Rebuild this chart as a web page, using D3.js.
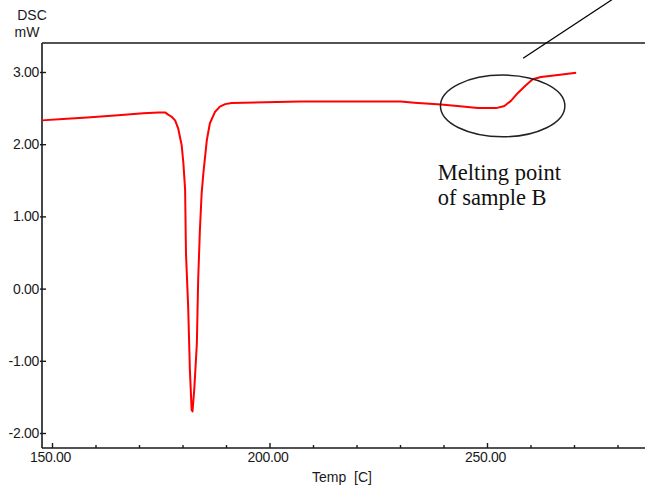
<!DOCTYPE html>
<html>
<head>
<meta charset="utf-8">
<script src="https://cdn.jsdelivr.net/npm/d3@7"></script>
<style>
  html, body { margin: 0; padding: 0; background: #fff; }
  svg { display: block; }
</style>
</head>
<body>
<svg id="chart" width="645" height="486"></svg>
<script>
// ---- data ----
const temps = [147.7, 152.5, 158.1, 165.2, 171.0, 174.5, 176.0, 176.7, 177.5, 178.3, 179.0, 179.8, 180.2, 180.6, 180.8, 181.3, 181.7, 182.1, 182.3, 182.7, 183.3, 183.6, 184.0, 184.4, 184.8, 185.6, 186.3, 187.5, 188.6, 189.8, 191.3, 207.0, 230.2, 233.3, 239.4, 243.2, 247.9, 252.1, 254.0, 255.5, 257.1, 259.0, 260.5, 262.4, 266.3, 270.5];
const dsc   = [2.33, 2.35, 2.37, 2.40, 2.43, 2.44, 2.44, 2.41, 2.38, 2.33, 2.22, 1.99, 1.74, 1.37, 0.49, -0.25, -1.13, -1.68, -1.70, -1.40, -0.76, 0.12, 0.81, 1.32, 1.60, 2.06, 2.29, 2.45, 2.52, 2.555, 2.57, 2.59, 2.59, 2.575, 2.55, 2.53, 2.50, 2.50, 2.53, 2.60, 2.71, 2.82, 2.90, 2.93, 2.96, 2.99];
const xMajorTicks = [150, 200, 250];
const xMinorTicks = [160, 170, 180, 190, 210, 220, 230, 240, 260, 270, 280];
const yTicks = [3, 2, 1, 0, -1, -2];
const yTitle = ["DSC", "mW"];
const xTitle = "Temp  [C]";
const noteLines = ["Melting point", "of sample B"];
const noteEllipse = { t: 253.6, v: 2.53, rt: 14.3, rv: 0.427 };
const notePointer = [[258.3, 3.19], [278.7, 4.0]];

// ---- scales ----
const x = d3.scaleLinear().domain([150, 250]).range([52, 487]);
const y = d3.scaleLinear().domain([-2, 3]).range([433, 72]);

const svg = d3.select("#chart");
const axisFont = "'Liberation Sans', Arial, sans-serif";
const ink = "#1a1a1a";
const fmt = d => d3.format(".2f")(d).replace("\u2212", "-");

const xLeft = 42, xRight = 645, yTop = 43, yBottom = 448;

// frame lines
svg.append("line").attr("x1", xLeft).attr("x2", xRight).attr("y1", yTop).attr("y2", yTop)
  .attr("stroke", ink).attr("stroke-width", 1.6);
svg.append("line").attr("x1", xLeft).attr("x2", xRight).attr("y1", yBottom).attr("y2", yBottom)
  .attr("stroke", ink).attr("stroke-width", 1.6);
svg.append("line").attr("x1", xLeft).attr("x2", xLeft).attr("y1", yTop).attr("y2", yBottom)
  .attr("stroke", ink).attr("stroke-width", 1.6);

// x axis (major with labels)
const gxMaj = svg.append("g").attr("transform", `translate(0,${yBottom})`)
  .call(d3.axisBottom(x).tickValues(xMajorTicks).tickSize(-5).tickPadding(8).tickFormat(fmt));
gxMaj.select(".domain").remove();
gxMaj.selectAll(".tick line").attr("stroke", ink).attr("stroke-width", 1.4);
gxMaj.selectAll(".tick text").attr("font-family", axisFont).attr("font-size", 14)
  .attr("fill", ink).attr("dy", "0.71em").attr("y", 4).attr("dx", -2).attr("letter-spacing", -0.3);

// x axis minor
const gxMin = svg.append("g").attr("transform", `translate(0,${yBottom})`)
  .call(d3.axisBottom(x).tickValues(xMinorTicks).tickSize(-3).tickFormat(""));
gxMin.select(".domain").remove();
gxMin.selectAll(".tick line").attr("stroke", ink).attr("stroke-width", 1.4);

// y axis
const gy = svg.append("g").attr("transform", `translate(${xLeft},0)`)
  .call(d3.axisRight(y).tickValues(yTicks).tickSize(4).tickFormat(fmt));
gy.select(".domain").remove();
gy.selectAll(".tick line").attr("stroke", ink).attr("stroke-width", 1.4).attr("x1", -2);
gy.selectAll(".tick text").attr("font-family", axisFont).attr("font-size", 14)
  .attr("fill", ink).attr("x", -3).attr("text-anchor", "end").attr("letter-spacing", -0.3);

// axis titles
svg.append("text").attr("x", 32).attr("y", 20).attr("text-anchor", "middle")
  .attr("font-family", axisFont).attr("font-size", 14).attr("fill", ink).text(yTitle[0]);
svg.append("text").attr("x", 27).attr("y", 37).attr("text-anchor", "middle")
  .attr("font-family", axisFont).attr("font-size", 14).attr("fill", ink).text(yTitle[1]);
svg.append("text").attr("x", 312).attr("y", 482).attr("text-anchor", "start")
  .attr("font-family", axisFont).attr("font-size", 14).attr("fill", ink)
  .attr("xml:space", "preserve").style("white-space", "pre").text(xTitle);

// curve
const pts = temps.map((t, i) => [t, dsc[i]]);
svg.append("path").datum(pts)
  .attr("fill", "none").attr("stroke", "#ff0000").attr("stroke-width", 2)
  .attr("stroke-linejoin", "round")
  .attr("d", d3.line().x(d => x(d[0])).y(d => y(d[1])));

// annotation: ellipse, pointer line, text
const pxPerT = x(1) - x(0), pxPerV = y(0) - y(1);
svg.append("ellipse")
  .attr("cx", x(noteEllipse.t)).attr("cy", y(noteEllipse.v))
  .attr("rx", noteEllipse.rt * pxPerT).attr("ry", noteEllipse.rv * pxPerV)
  .attr("fill", "none").attr("stroke", "#222").attr("stroke-width", 1.5);
svg.append("line")
  .attr("x1", x(notePointer[0][0])).attr("y1", y(notePointer[0][1]))
  .attr("x2", x(notePointer[1][0])).attr("y2", y(notePointer[1][1]))
  .attr("stroke", "#000").attr("stroke-width", 1.3);
const noteFont = "'Liberation Serif', 'Times New Roman', serif";
svg.append("text").attr("x", x(238.7)).attr("y", y(1.51))
  .attr("font-family", noteFont).attr("font-size", 22.5).attr("fill", "#111").text(noteLines[0]);
svg.append("text").attr("x", x(238.7)).attr("y", y(1.155))
  .attr("font-family", noteFont).attr("font-size", 22.5).attr("fill", "#111").text(noteLines[1]);
</script>
</body>
</html>
